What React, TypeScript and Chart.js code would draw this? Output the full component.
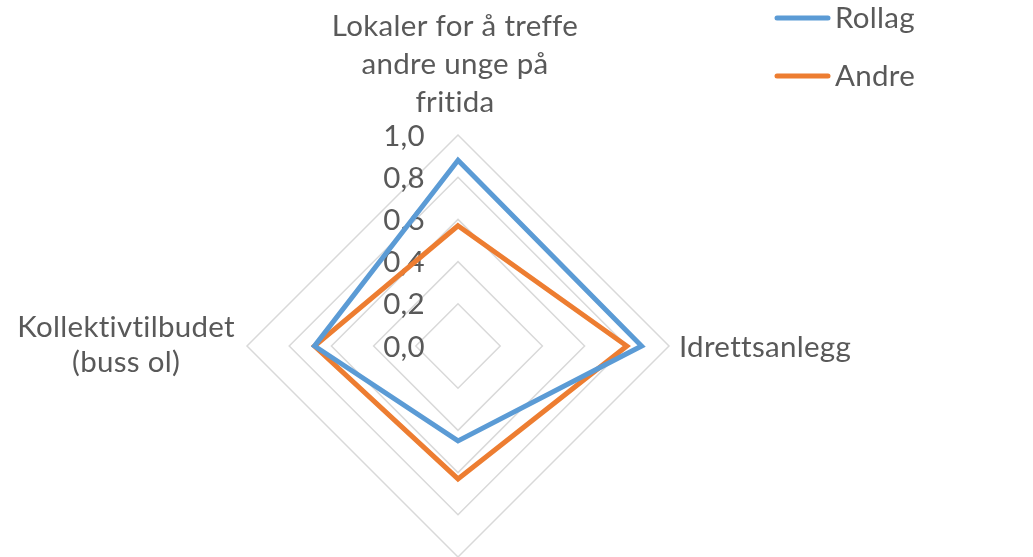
import React, { useEffect, useRef } from "react";
import { Chart, registerables } from "chart.js";

Chart.register(...registerables);

const categories: (string | string[])[] = [
  ["Lokaler for å treffe", "andre unge på", "fritida"],
  "Idrettsanlegg",
  "",
  ["Kollektivtilbudet", "(buss ol)"],
];
const rollag = [0.88, 0.87, 0.45, 0.68];
const andre = [0.57, 0.8, 0.63, 0.68];
const seriesNames = ["Rollag", "Andre"];
const tickValues = [0, 0.2, 0.4, 0.6, 0.8, 1.0];

const BLUE = "#5B9BD5";
const ORANGE = "#ED7D31";
const TEXT = "#595959";
const GRID = "#D9D9D9";
const FONT = "Lato, Carlito, Calibri, sans-serif";
const FS = 29.5;

const fmt = (v: number) => v.toFixed(1).replace(".", ",");

const setFont = (ctx: any) => {
  ctx.fillStyle = TEXT;
  ctx.font = `${FS}px ${FONT}`;
  try {
    ctx.letterSpacing = "0.3px";
  } catch (e) {}
};

const decorPlugin = {
  id: "decor",
  beforeDatasetsDraw(chart: any) {
    const scale = chart.scales.r;
    const ctx = chart.ctx;
    ctx.save();
    setFont(ctx);
    ctx.textAlign = "right";
    ctx.textBaseline = "alphabetic";
    tickValues.forEach((v) => {
      const y = scale.yCenter - scale.getDistanceFromCenterForValue(v);
      ctx.fillText(fmt(v), scale.xCenter - 33, y + 10.5);
    });
    ctx.restore();
  },
  afterDraw(chart: any) {
    const scale = chart.scales.r;
    const ctx = chart.ctx;
    const R = scale.drawingArea;
    ctx.save();
    setFont(ctx);
    ctx.textBaseline = "alphabetic";
    const lh = 38;
    chart.data.labels.forEach((lab: string | string[], i: number) => {
      const lines = Array.isArray(lab) ? lab : [lab];
      if (!lines.join("")) return;
      const p = scale.getPointPosition(i, R);
      if (i === 0) {
        ctx.textAlign = "center";
        const last = p.y - 23;
        lines.forEach((l, k) => {
          ctx.fillText(l, p.x - 3, last - (lines.length - 1 - k) * lh);
        });
      } else if (i === 1) {
        ctx.textAlign = "left";
        ctx.fillText(lines[0], p.x + 10, p.y + 11);
      } else if (i === 3) {
        ctx.textAlign = "center";
        const widths = lines.map((l) => ctx.measureText(l).width);
        const maxW = Math.max(...widths);
        const cx = p.x - 12 - maxW / 2;
        lines.forEach((l, k) => {
          ctx.fillText(l, cx, p.y - 9 + k * 35);
        });
      }
    });
    // legend
    chart.data.datasets.forEach((ds: any, i: number) => {
      const y = 18 + i * 58;
      ctx.strokeStyle = ds.borderColor;
      ctx.lineWidth = 5;
      ctx.lineCap = "round";
      ctx.beginPath();
      ctx.moveTo(777, y);
      ctx.lineTo(828, y);
      ctx.stroke();
      ctx.textAlign = "left";
      ctx.fillText(ds.label, 835, y + 9.5);
    });
    ctx.restore();
  },
};

export default function App() {
  const ref = useRef<HTMLCanvasElement | null>(null);
  useEffect(() => {
    if (!ref.current) return;
    const chart = new Chart(ref.current, {
      type: "radar",
      data: {
        labels: categories as any,
        datasets: [
          {
            label: seriesNames[0],
            data: rollag,
            borderColor: BLUE,
            backgroundColor: BLUE,
            borderWidth: 5,
            pointRadius: 0,
            pointHoverRadius: 0,
            fill: false,
            borderJoinStyle: "miter",
          },
          {
            label: seriesNames[1],
            data: andre,
            borderColor: ORANGE,
            backgroundColor: ORANGE,
            borderWidth: 5,
            pointRadius: 0,
            pointHoverRadius: 0,
            fill: false,
            borderJoinStyle: "miter",
          },
        ],
      },
      options: {
        responsive: false,
        animation: false,
        layout: { padding: { left: 247, right: 364, top: 135, bottom: 0 } },
        plugins: { legend: { display: false }, tooltip: { enabled: false } },
        scales: {
          r: {
            min: 0,
            max: 1,
            ticks: { stepSize: 0.2, display: false },
            grid: { circular: false, color: GRID, lineWidth: 1.5 },
            angleLines: { display: false },
            pointLabels: { display: false },
          },
        },
      },
      plugins: [decorPlugin],
    });
    return () => chart.destroy();
  }, []);
  return (
    <div style={{ position: "absolute", left: 0, top: 0, width: 1033, height: 557, background: "#fff" }}>
      <canvas ref={ref} width={1033} height={557} style={{ display: "block" }} />
    </div>
  );
}
